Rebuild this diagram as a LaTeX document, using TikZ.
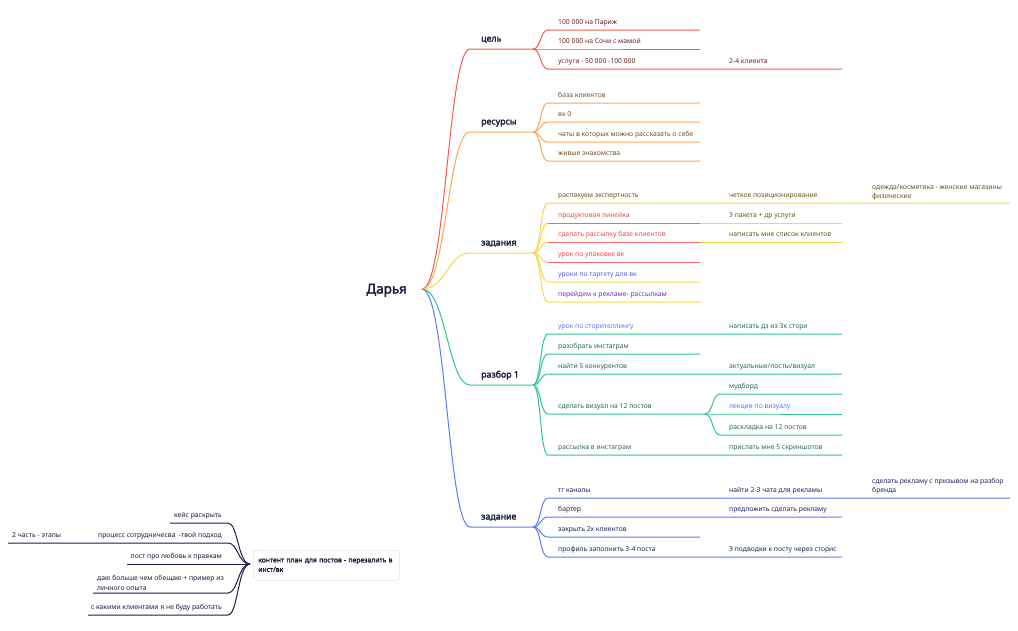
\documentclass[tikz,border=0pt]{standalone}
\usepackage{fontspec}
\setmainfont{Noto Sans}[BoldFont={Noto Sans}, BoldFeatures={FakeBold=2.2}]
\definecolor{ink}{HTML}{1B1B3A}
\definecolor{lred}{HTML}{F4594F}
\definecolor{lsalmon}{HTML}{F46A62}
\definecolor{lorange}{HTML}{F9A75B}
\definecolor{lyellow}{HTML}{F7D84A}
\definecolor{lgreen}{HTML}{2DC98C}
\definecolor{lblue}{HTML}{5C7CF6}
\definecolor{lnavy}{HTML}{1E1E4A}
\definecolor{tred}{HTML}{6E2323}
\definecolor{tbrown}{HTML}{7A4E22}
\definecolor{tolive}{HTML}{5E5A1C}
\definecolor{tpink}{HTML}{EE4A4A}
\definecolor{tblue}{HTML}{5B63E8}
\definecolor{tpurple}{HTML}{6A34B8}
\definecolor{tgreen}{HTML}{216E50}
\definecolor{tgblue}{HTML}{5C78F4}
\definecolor{tnavy}{HTML}{1F2560}
\newcommand\mmmain[4]{%
  \coordinate (#2s) at (470,#3);
  \coordinate (#2h) at (533,#3);
  \draw[ln,#1] (hub) .. controls +(24,0) and +(-22,0) .. (#2s) -- (#2h);
  \node[mainlbl] (#2l) at (481,#3-7.5) {#4};
}
\newcommand\mmkid[5]{%
  \coordinate (#3s) at (548,#4);
  \coordinate (#3e) at (#5,#4);
  \draw[ln,#1] (#2) .. controls +(8,0) and +(-8,0) .. (#3s) -- (#3e);
}
\newcommand\mmcurve[4]{%
  \coordinate (#3s) at (548,#4);
  \draw[ln,#1] (#2) .. controls +(8,0) and +(-8,0) .. (#3s);
}
\begin{document}
\begin{tikzpicture}[x=1pt,y=-1pt,
  t/.style={inner sep=0pt, anchor=base west, font=\fontsize{6.8}{9.5}\selectfont},
  tr/.style={inner sep=0pt, anchor=base east, font=\fontsize{6.8}{9.5}\selectfont},
  tm/.style={inner sep=0pt, anchor=south west, align=left, font=\fontsize{6.8}{9.5}\selectfont},
  mainlbl/.style={inner sep=0pt, anchor=base west, font=\bfseries\fontsize{8.8}{10}\selectfont, text=ink},
  ln/.style={line width=1pt},
  ]
\useasboundingbox (0,0) rectangle (1018,630);
\fill[white] (0,0) rectangle (1018,630);

% root
\node[font=\bfseries\fontsize{13.5}{14}\selectfont, text=ink, inner sep=0pt, anchor=base east] (root) at (407,293.5) {Дарья};
\coordinate (hub) at (422,289);

% ---------- цель ----------
\mmmain{lred}{A}{49}{цель}
\mmkid{lred}{Ah}{A1}{30}{700}
\mmkid{lred}{Ah}{A2}{49}{700}
\mmkid{lred}{Ah}{A3}{69}{842}
\node[t,text=tred] (a1) at (558,24.5) {100 000 на Париж};
\node[t,text=tred] (a2) at (558,43.5) {100 000 на Сочи с мамой};
\node[t,text=tred] (a3) at (558,63.5) {услуги - 50 000 -100 000};
\node[t,text=tred] (a3b) at (729,63.5) {2-4 клиента};

% ---------- ресурсы ----------
\mmmain{lorange}{B}{132}{ресурсы}
\mmkid{lorange}{Bh}{B1}{103}{700}
\mmkid{lorange}{Bh}{B2}{122}{700}
\mmkid{lorange}{Bh}{B3}{142}{700}
\mmkid{lorange}{Bh}{B4}{161}{700}
\node[t,text=tbrown] (b1) at (558,97.5) {база клиентов};
\node[t,text=tbrown] (b2) at (558,116.5) {вк 0};
\node[t,text=tbrown] (b3) at (558,136.5) {чаты в которых можно рассказать о себе};
\node[t,text=tbrown] (b4) at (558,155.5) {живые знакомства};

% ---------- задания ----------
\mmmain{lyellow}{C}{253}{задания}
\mmkid{lyellow}{Ch}{C1}{203}{1010}
\mmcurve{lyellow}{Ch}{C2}{223}
\mmcurve{lyellow}{Ch}{C3}{242}
\mmcurve{lyellow}{Ch}{C4}{262}
\mmkid{lyellow}{Ch}{C5}{282}{700}
\mmkid{lyellow}{Ch}{C6}{302}{700}
\coordinate (C2m) at (700,223); \coordinate (C2e) at (842,223);
\coordinate (C3m) at (700,242); \coordinate (C3e) at (842,242);
\coordinate (C4e) at (700,262);
\draw[ln,lsalmon] (C2s) -- (C2m);
\draw[ln,lyellow] (C2m) -- (C2e);
\draw[ln,lsalmon] (C3s) -- (C3m);
\draw[ln,lyellow] (C3m) -- (C3e);
\draw[ln,lsalmon] (C4s) -- (C4e);
\node[t,text=tolive] (c1) at (558,197.5) {распакуем экспертность};
\node[t,text=tolive] (c1b) at (729,197.5) {четкое позиционирование};
\node[tm,text=tolive] (c1c) at (872,200.5) {одежда/косметика - женские магазины\\физические};
\node[t,text=tpink] (c2) at (558,217.5) {продуктовая линейка};
\node[t,text=tolive] (c2b) at (729,217.5) {3 пакета + др услуги};
\node[t,text=tpink] (c3) at (558,236.5) {сделать рассылку базе клиентов};
\node[t,text=tolive] (c3b) at (729,236.5) {написать мне список клиентов};
\node[t,text=tpink] (c4) at (558,256.5) {урок по упаковке вк};
\node[t,text=tblue] (c5) at (558,276.5) {уроки по таргету для вк};
\node[t,text=tpurple] (c6) at (558,296.5) {перейдем к рекламе- рассылкам};

% ---------- разбор 1 ----------
\mmmain{lgreen}{D}{385}{разбор 1}
\mmkid{lgreen}{Dh}{D1}{334}{842}
\mmkid{lgreen}{Dh}{D2}{354}{700}
\mmkid{lgreen}{Dh}{D3}{374}{842}
\mmkid{lgreen}{Dh}{D4}{414}{705}
\mmkid{lgreen}{Dh}{D5}{455}{842}
\coordinate (E1s) at (720,394); \coordinate (E1e) at (842,394);
\coordinate (E2s) at (720,414); \coordinate (E2e) at (842,414);
\coordinate (E3s) at (720,435); \coordinate (E3e) at (842,435);
\draw[ln,lgreen] (D4e) .. controls +(8,0) and +(-8,0) .. (E1s) -- (E1e);
\draw[ln,lgreen] (D4e) -- (E2s) -- (E2e);
\draw[ln,lgreen] (D4e) .. controls +(8,0) and +(-8,0) .. (E3s) -- (E3e);
\node[t,text=tgblue] (d1) at (558,328.5) {урок по сторителлингу};
\node[t,text=tgreen] (d1b) at (729,328.5) {написать дз из 3х стори};
\node[t,text=tgreen] (d2) at (558,348.5) {разобрать инстаграм};
\node[t,text=tgreen] (d3) at (558,368.5) {найти 5 конкурентов};
\node[t,text=tgreen] (d3b) at (729,368.5) {актуальные/посты/визуал};
\node[t,text=tgreen] (d4) at (558,408.5) {сделать визуал на 12 постов};
\node[t,text=tgreen] (e1) at (729,388.5) {мудборд};
\node[t,text=tgblue] (e2) at (729,408.5) {лекция по визуалу};
\node[t,text=tgreen] (e3) at (729,429.5) {раскладка на 12 постов};
\node[t,text=tgreen] (d5) at (558,449.5) {рассылка в инстаграм};
\node[t,text=tgreen] (d5b) at (729,449.5) {прислать мне 5 скриншотов};

% ---------- задание ----------
\mmmain{lblue}{F}{527}{задание}
\mmkid{lblue}{Fh}{F1}{498}{1010}
\mmkid{lblue}{Fh}{F2}{517}{842}
\mmkid{lblue}{Fh}{F3}{537}{700}
\mmkid{lblue}{Fh}{F4}{557}{842}
\node[t,text=tnavy] (f1) at (558,492.5) {тг каналы};
\node[t,text=tnavy] (f1b) at (729,492.5) {найти 2-3 чата для рекламы};
\node[tm,text=tnavy] (f1c) at (872,494.5) {сделать рекламу с призывом на разбор\\бренда};
\node[t,text=tnavy] (f2) at (558,511.5) {бартер};
\node[t,text=tnavy] (f2b) at (729,511.5) {предложить сделать рекламу};
\node[t,text=tnavy] (f3) at (558,531.5) {закрыть 2х клиентов};
\node[t,text=tnavy] (f4) at (558,551.5) {профиль заполнить 3-4 поста};
\node[t,text=tnavy] (f4b) at (729,551.5) {3 подводки к посту через сторис};

% ---------- left tree ----------
\node[draw=gray!22, line width=0.6pt, rounded corners=3pt, fill=white, anchor=north west,
      text width=136pt, inner xsep=5pt, inner ysep=4pt, minimum height=30pt, align=left,
      font=\bfseries\fontsize{6.8}{9.5}\selectfont, text=ink] (cp) at (253,550)
  {контент план для постов - перезалить в инст/вк};
\coordinate (L) at (250,564);
\coordinate (L1s) at (228,523); \coordinate (L1e) at (170,523);
\coordinate (L2s) at (228,543); \coordinate (L2e) at (8,543);
\coordinate (L3e) at (127,564);
\coordinate (L4s) at (228,593); \coordinate (L4e) at (93,593);
\coordinate (L5s) at (228,615); \coordinate (L5e) at (88,615);
\draw[ln,lnavy] (L) .. controls +(-12,0) and +(10,0) .. (L1s) -- (L1e);
\draw[ln,lnavy] (L) .. controls +(-12,0) and +(10,0) .. (L2s) -- (L2e);
\draw[ln,lnavy] (L) -- (L3e);
\draw[ln,lnavy] (L) .. controls +(-12,0) and +(10,0) .. (L4s) -- (L4e);
\draw[ln,lnavy] (L) .. controls +(-12,0) and +(10,0) .. (L5s) -- (L5e);
\node[tr,text=ink] (l1) at (222,517.5) {кейс раскрыть};
\node[tr,text=ink] (l2) at (222,537.5) {процесс сотрудничесва\ \ -твой подход};
\node[t,text=ink] (l2b) at (12,537.5) {2 часть - этапы};
\node[tr,text=ink] (l3) at (222,558.5) {пост про любовь к правкам};
\node[tm,text=ink] (l4) at (97,590.5) {даю больше чем обещаю + пример из\\личного опыта};
\node[tr,text=ink] (l5) at (222,609.5) {с какими клиентами я не буду работать};
\end{tikzpicture}
\end{document}
